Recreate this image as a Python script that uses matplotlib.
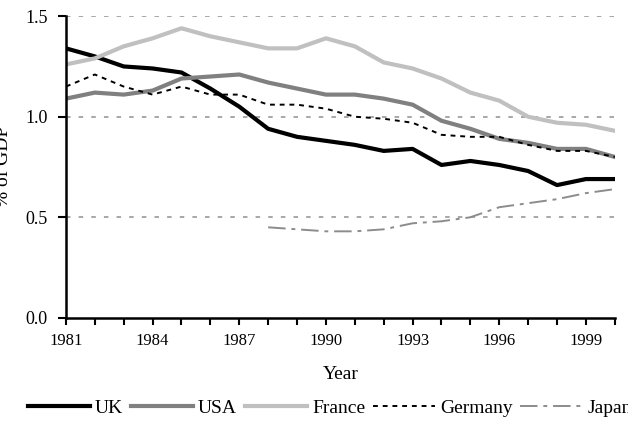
import matplotlib
matplotlib.use('Agg')

import matplotlib.pyplot as plt
import numpy as np

plt.rcParams['font.family'] = ['Liberation Serif', 'DejaVu Serif']

years = list(range(1981, 2001))

uk = [1.34, 1.30, 1.25, 1.24, 1.22, 1.14, 1.05, 0.94, 0.90, 0.88,
      0.86, 0.83, 0.84, 0.76, 0.78, 0.76, 0.73, 0.66, 0.69, 0.69]
usa = [1.09, 1.12, 1.11, 1.13, 1.19, 1.20, 1.21, 1.17, 1.14, 1.11,
       1.11, 1.09, 1.06, 0.98, 0.94, 0.89, 0.87, 0.84, 0.84, 0.80]
france = [1.26, 1.29, 1.35, 1.39, 1.44, 1.40, 1.37, 1.34, 1.34, 1.39,
          1.35, 1.27, 1.24, 1.19, 1.12, 1.08, 1.00, 0.97, 0.96, 0.93]
germany = [1.15, 1.21, 1.15, 1.11, 1.15, 1.11, 1.11, 1.06, 1.06, 1.04,
           1.00, 0.99, 0.97, 0.91, 0.90, 0.90, 0.86, 0.83, 0.83, 0.80]
japan_years = list(range(1988, 2001))
japan = [0.45, 0.44, 0.43, 0.43, 0.44, 0.47, 0.48, 0.50, 0.55, 0.57,
         0.59, 0.62, 0.64]

fig = plt.figure(figsize=(6.28, 4.26), dpi=100)
ax = fig.add_axes([0.105, 0.254, 0.874, 0.708])

ax.plot(years, uk, color='black', lw=3, label='UK', solid_joinstyle='round')
ax.plot(years, usa, color='#808080', lw=3, label='USA', solid_joinstyle='round')
ax.plot(years, france, color='#c0c0c0', lw=3, label='France', solid_joinstyle='round')
ax.plot(years, germany, color='black', lw=1.4, linestyle=(0, (2.5, 2.5)), label='Germany')
ax.plot(japan_years, japan, color='#8c8c8c', lw=1.4, linestyle=(0, (9, 3, 2, 3)), label='Japan')

# dotted gridlines
for yv in [0.5, 1.0, 1.5]:
    ax.axhline(yv, color='#a0a0a0', lw=1.3, linestyle=(0, (2.5, 4.5)), zorder=0)

ax.set_xlim(1981, 2000)
ax.set_ylim(0, 1.5)
ax.set_xticks(years)
ax.set_xticklabels([str(y) if (y - 1981) % 3 == 0 else '' for y in years], fontsize=12)
ax.set_yticks([0.0, 0.5, 1.0, 1.5])
ax.set_yticklabels(['0.0', '0.5', '1.0', '1.5'], fontsize=13)
ax.tick_params(axis='x', direction='out', length=5, width=1.5, pad=6)
ax.tick_params(axis='y', direction='out', length=6, width=1.5, pad=7)

for s in ['top', 'right']:
    ax.spines[s].set_visible(False)
for s in ['left', 'bottom']:
    ax.spines[s].set_linewidth(1.8)

ax.set_xlabel('Year', fontsize=14, labelpad=12)
fig.text(0.005, 0.61, '% of GDP', rotation=90, fontsize=14, ha='center', va='center')

leg = fig.legend(loc='center left', bbox_to_anchor=(28 / 628, 1 - 408 / 426), ncol=5,
                 frameon=False, fontsize=14, handlelength=3.2, handletextpad=0.25,
                 columnspacing=0.4, borderpad=0, borderaxespad=0)

fig.savefig('out.png', dpi=100)
